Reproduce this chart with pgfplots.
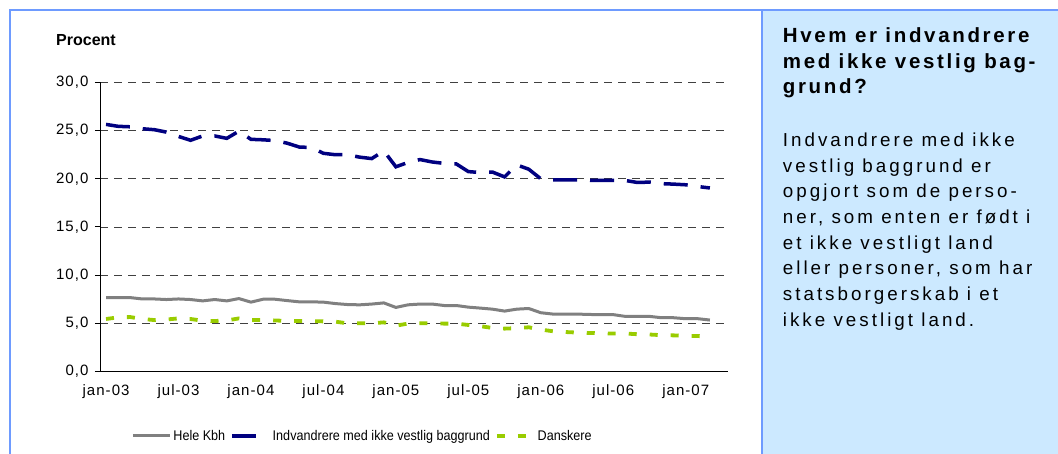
\documentclass[border=0pt]{standalone}
\usepackage{fontspec}
\setmainfont{Liberation Sans}
\newfontfamily\tickfont[LetterSpace=7]{Liberation Sans}
\newfontfamily\legfont[FakeStretch=0.9]{Liberation Sans}
\newfontfamily\panelfont[LetterSpace=16]{Liberation Sans}
\newfontfamily\headfont[LetterSpace=13]{Liberation Sans Bold}
\usepackage{pgfplots}
\usepackage{pgfplotstable}
\pgfplotsset{compat=1.18}
\definecolor{panelblue}{RGB}{204,233,255}
\definecolor{borderblue}{RGB}{110,155,255}
\definecolor{navyline}{RGB}{0,0,128}
\definecolor{grayline}{RGB}{128,128,128}
\definecolor{greenline}{RGB}{153,204,0}

\pgfplotstableread{
m blue gray green
0 25.65 7.67 5.45
1 25.45 7.67 5.62
2 25.40 7.67 5.65
3 25.20 7.53 5.45
4 25.10 7.53 5.34
5 24.85 7.47 5.40
6 24.40 7.53 5.51
7 24.00 7.47 5.45
8 24.45 7.33 5.27
9 24.45 7.47 5.24
10 24.20 7.33 5.30
11 24.95 7.57 5.51
12 24.10 7.20 5.34
13 24.05 7.50 5.34
14 23.97 7.50 5.30
15 23.70 7.36 5.24
16 23.30 7.23 5.24
17 23.25 7.23 5.24
18 22.65 7.20 5.20
19 22.50 7.05 5.17
20 22.50 6.95 5.00
21 22.25 6.92 5.00
22 22.10 7.00 5.00
23 22.90 7.12 5.10
24 21.25 6.65 4.76
25 21.70 6.92 4.97
26 22.00 7.00 5.00
27 21.75 7.00 5.00
28 21.60 6.85 4.97
29 21.55 6.85 4.97
30 20.75 6.68 4.83
31 20.65 6.58 4.70
32 20.70 6.47 4.52
33 20.20 6.27 4.45
34 21.45 6.47 4.50
35 21.00 6.54 4.59
36 20.00 6.10 4.35
37 19.90 5.96 4.18
38 19.90 5.96 4.10
39 19.90 5.96 4.04
40 19.85 5.92 4.00
41 19.83 5.90 3.97
42 19.83 5.90 3.94
43 19.83 5.72 3.94
44 19.62 5.72 3.87
45 19.66 5.72 3.84
46 19.50 5.58 3.77
47 19.45 5.58 3.75
48 19.38 5.48 3.70
49 19.20 5.48 3.68
50 19.05 5.34 3.63
}\datatable

\begin{document}
\begin{tikzpicture}[x=1pt,y=1pt]
\useasboundingbox (0,0) rectangle (1058,454);
% right panel
\fill[panelblue] (762,0) rectangle (1058,444);
\draw[borderblue, line width=2pt] (10,0) -- (10,444) -- (1058,444);
\draw[borderblue, line width=2pt] (762,0) -- (762,444);

\begin{axis}[
  at={(100pt,82.5pt)}, anchor=south west,
  scale only axis, width=628pt, height=289pt,
  xmin=-0.5, xmax=51.5, ymin=0, ymax=30,
  axis lines*=left,
  axis line style={black, line width=1pt},
  xtick={0,6,...,48},
  xticklabels={jan-03,jul-03,jan-04,jul-04,jan-05,jul-05,jan-06,jul-06,jan-07},
  x tick style={draw=none},
  extra x ticks={-0.5,5.5,...,47.5},
  extra x tick labels={},
  extra x tick style={tick style={draw=black, line width=1pt}, major tick length=5pt},
  ytick={0,5,...,30},
  yticklabels={{0,0},{5,0},{10,0},{15,0},{20,0},{25,0},{30,0}},
  y tick style={draw=black, line width=1pt},
  tick align=outside,
  major tick length=5pt,
  ymajorgrids,
  grid style={black!75, line width=0.9pt, dash pattern=on 8pt off 6pt},
  ticklabel style={font=\tickfont\fontsize{15}{17}\selectfont, text=black},
  xticklabel style={yshift=-5pt},
  yticklabel style={xshift=-3pt},
  legend style={at={(0.418,-0.223)}, anchor=center, draw=none, fill=none,
    font=\legfont\fontsize{14}{16}\selectfont, text=black,
    /tikz/every even column/.append style={column sep=3pt},
    inner sep=0pt},
  legend columns=-1,
  legend image code/.code={\draw[#1] (0pt,0pt) -- (37pt,0pt);},
]
\addplot[grayline, line width=3pt, line join=round] table[x=m,y=gray] {\datatable};
\addlegendentry{Hele Kbh}
\addplot[navyline, line width=3.5pt, dash pattern=on 24pt off 13pt] table[x=m,y=blue] {\datatable};
\addlegendentry{Indvandrere med ikke vestlig baggrund}
\addplot[greenline, line width=3.8pt, dash pattern=on 8pt off 13pt] table[x=m,y=green] {\datatable};
\addlegendentry{Danskere}
\end{axis}

\node[anchor=base west, inner sep=0pt, font=\bfseries\fontsize{16}{19}\selectfont] at (56,408.3) {Procent};

% panel text
\begin{scope}[every node/.style={anchor=base west, inner sep=0pt}]
\node[font=\headfont\fontsize{20.5}{23}\selectfont] at (782.7,411.7) {Hvem er indvandrere};
\node[font=\headfont\fontsize{20.5}{23}\selectfont] at (782.7,385.7) {med ikke vestlig bag-};
\node[font=\headfont\fontsize{20.5}{23}\selectfont] at (782.7,360.0) {grund?};
\node[font=\panelfont\fontsize{18.8}{21}\selectfont] at (782.7,307.3) {Indvandrere med ikke};
\node[font=\panelfont\fontsize{18.8}{21}\selectfont] at (782.7,281.7) {vestlig baggrund er};
\node[font=\panelfont\fontsize{18.8}{21}\selectfont] at (782.7,256.0) {opgjort som de perso-};
\node[font=\panelfont\fontsize{18.8}{21}\selectfont] at (782.7,230.3) {ner, som enten er født i};
\node[font=\panelfont\fontsize{18.8}{21}\selectfont] at (782.7,204.7) {et ikke vestligt land};
\node[font=\panelfont\fontsize{18.8}{21}\selectfont] at (782.7,179.0) {eller personer, som har};
\node[font=\panelfont\fontsize{18.8}{21}\selectfont] at (782.7,153.3) {statsborgerskab i et};
\node[font=\panelfont\fontsize{18.8}{21}\selectfont] at (782.7,127.7) {ikke vestligt land.};
\end{scope}
\end{tikzpicture}
\end{document}
